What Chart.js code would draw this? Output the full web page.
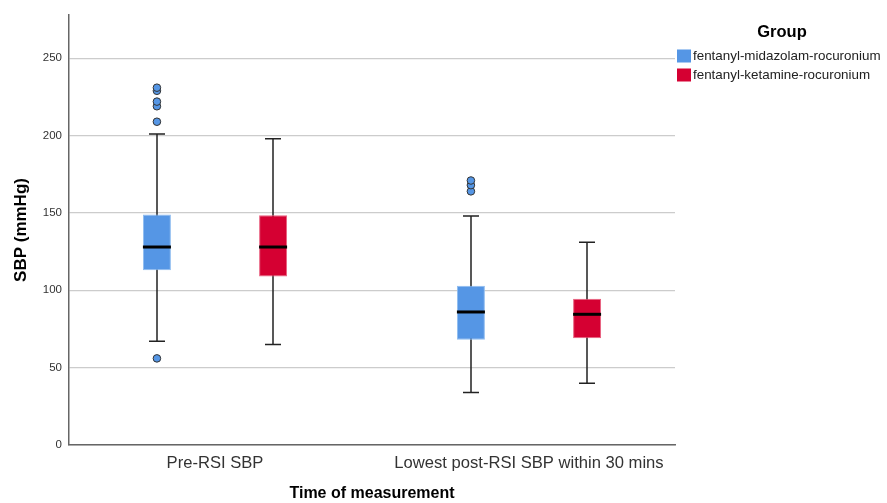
<!DOCTYPE html>
<html>
<head>
<meta charset="utf-8">
<script src="https://cdn.jsdelivr.net/npm/chart.js@4/dist/chart.umd.min.js"></script>
<style>
  body { margin: 0; background: #fff; }
  #wrap { width: 887px; height: 503px; }
</style>
</head>
<body>
<div id="wrap"><canvas id="sbp" width="887" height="503"></canvas></div>
<script>
// categories
const times = ["Pre-RSI SBP", "Lowest post-RSI SBP within 30 mins"];
const groups = ["fentanyl-midazolam-rocuronium", "fentanyl-ketamine-rocuronium"];

// box plot values (mmHg)
const midazMin = [67, 34];
const midazQ1 = [113, 68];
const midazMedian = [128, 86];
const midazQ3 = [149, 103];
const midazMax = [201, 148];
const midazOutliers = [[56, 209, 219, 222, 229, 231], [164, 168, 171]];

const ketMin = [65, 40];
const ketQ1 = [109, 69];
const ketMedian = [128, 84.5];
const ketQ3 = [148.5, 94.5];
const ketMax = [198, 131];
const ketOutliers = [[], []];

const yTicks = [0, 50, 100, 150, 200, 250];

const colors = ["#5596e5", "#d50032"];
const borders = ["#8fbcf0", "#e8607f"];
const shift = [-0.185, 0.185];
const fontFamily = "'Liberation Sans', Arial, sans-serif";

const stats = [
  { min: midazMin, q1: midazQ1, med: midazMedian, q3: midazQ3, max: midazMax, out: midazOutliers },
  { min: ketMin, q1: ketQ1, med: ketMedian, q3: ketQ3, max: ketMax, out: ketOutliers },
];

const boxSets = stats.map((s, g) => ({
  type: "bar",
  label: groups[g],
  data: times.map((_, i) => ({ x: i + 1 + shift[g], y: [s.q1[i], s.q3[i]] })),
  backgroundColor: colors[g],
  borderColor: borders[g],
  borderWidth: 1,
  borderSkipped: false,
  maxBarThickness: 28,
  grouped: false,
  order: 2,
}));

const outlierSets = stats.map((s, g) => ({
  type: "scatter",
  label: "outliers " + g,
  data: s.out.flatMap((vals, i) => vals.map((v) => ({ x: i + 1 + shift[g], y: v }))),
  backgroundColor: colors[g],
  borderColor: "#333",
  borderWidth: 1,
  pointRadius: 3.8,
  order: 1,
}));

// whiskers under the boxes, median lines on top
const whiskers = {
  id: "whiskers",
  beforeDatasetsDraw(chart) {
    const { ctx, scales: { x, y } } = chart;
    ctx.save();
    ctx.strokeStyle = "#222";
    ctx.lineWidth = 1.5;
    stats.forEach((s, g) => {
      times.forEach((_, i) => {
        const px = Math.round(x.getPixelForValue(i + 1 + shift[g]));
        ctx.beginPath();
        ctx.moveTo(px, y.getPixelForValue(s.max[i]));
        ctx.lineTo(px, y.getPixelForValue(s.min[i]));
        [s.max[i], s.min[i]].forEach((v) => {
          ctx.moveTo(px - 8, y.getPixelForValue(v));
          ctx.lineTo(px + 8, y.getPixelForValue(v));
        });
        ctx.stroke();
      });
    });
    ctx.restore();
  },
  afterDatasetsDraw(chart) {
    const { ctx, scales: { x, y } } = chart;
    ctx.save();
    ctx.strokeStyle = "#000";
    ctx.lineWidth = 3;
    stats.forEach((s, g) => {
      times.forEach((_, i) => {
        const px = x.getPixelForValue(i + 1 + shift[g]);
        const py = y.getPixelForValue(s.med[i]);
        ctx.beginPath();
        ctx.moveTo(px - 14, py);
        ctx.lineTo(px + 14, py);
        ctx.stroke();
      });
    });
    ctx.restore();
  },
};

// SPSS style legend on the right, built from the box datasets
const groupLegend = {
  id: "groupLegend",
  afterDraw(chart) {
    const { ctx, chartArea } = chart;
    const left = chartArea.right + 2;
    ctx.save();
    ctx.fillStyle = "#000";
    ctx.font = "bold 16.5px " + fontFamily;
    ctx.textAlign = "center";
    ctx.textBaseline = "middle";
    ctx.fillText("Group", left + 105, 32);
    ctx.textAlign = "left";
    ctx.font = "13.4px " + fontFamily;
    chart.data.datasets.slice(0, groups.length).forEach((ds, i) => {
      const cy = 56 + i * 19;
      ctx.fillStyle = ds.backgroundColor;
      ctx.fillRect(left, cy - 6.5, 14, 13);
      ctx.fillStyle = "#222";
      ctx.fillText(ds.label, left + 16, cy);
    });
    ctx.restore();
  },
};

new Chart(document.getElementById("sbp"), {
  data: { datasets: [...boxSets, ...outlierSets] },
  plugins: [whiskers, groupLegend],
  options: {
    responsive: false,
    animation: false,
    layout: { padding: { top: 15, left: 0, right: 212, bottom: 0 } },
    plugins: {
      tooltip: { enabled: false },
      legend: { display: false },
    },
    scales: {
      x: {
        type: "linear",
        offset: false,
        bounds: "data",
        min: 0.535,
        max: 2.465,
        afterFit: (scale) => { scale.height = 58; },
        afterBuildTicks: (scale) => { scale.ticks = times.map((_, i) => ({ value: i + 1 })); },
        grid: { display: false, drawTicks: false },
        border: { display: true, color: "#666", width: 1.5 },
        ticks: {
          padding: 8,
          color: "#333",
          font: { family: fontFamily, size: 16.6 },
          callback: (v) => times[v - 1],
        },
        title: {
          display: true,
          text: "Time of measurement",
          color: "#000",
          font: { family: fontFamily, size: 16, weight: "bold" },
          padding: { bottom: 0 },
        },
      },
      y: {
        min: 0,
        max: 278,
        afterFit: (scale) => { scale.width = 69; },
        afterBuildTicks: (scale) => { scale.ticks = yTicks.map((v) => ({ value: v })); },
        grid: { color: "#cccccc", lineWidth: 1.2, drawTicks: false },
        border: { display: true, color: "#666", width: 1.5 },
        ticks: {
          padding: 7,
          color: "#333",
          font: { family: fontFamily, size: 11.5 },
        },
        title: {
          display: true,
          text: "SBP (mmHg)",
          color: "#000",
          font: { family: fontFamily, size: 17, weight: "bold" },
          padding: { top: 11 },
        },
      },
    },
  },
});
</script>
</body>
</html>
